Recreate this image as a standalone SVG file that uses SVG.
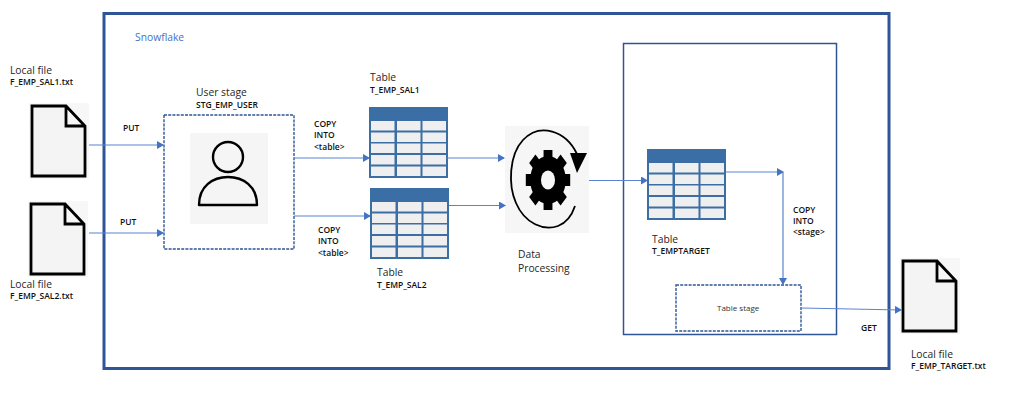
<svg xmlns="http://www.w3.org/2000/svg" width="1024" height="417" viewBox="0 0 1024 417">
<style>
text{font-family:"Open Sans","Noto Sans","Liberation Sans",sans-serif;fill:#262626}
.l{font-size:10.300px}
.b{font-size:8.500px;font-weight:600;fill:#111}
.s{font-size:8px;fill:#333}
.c{fill:none;stroke:#5b84cf;stroke-width:1.2}
.d{fill:#fff;stroke:#2f5597;stroke-width:1.4;stroke-dasharray:3 1.2}
</style>
<defs>
<marker id="a" markerUnits="userSpaceOnUse" markerWidth="7" markerHeight="8" refX="6" refY="4" orient="auto"><path d="M0 0L7 4L0 8Z" fill="#4472c4"/></marker>
<symbol id="file" width="60" height="76" viewBox="0 0 60 76" overflow="visible">
<rect width="60" height="76" fill="#f7f7f7"/>
<path d="M3 3H37L56 23V73H3Z M37 3V23H56" fill="#f4f4f4" stroke="#000" stroke-width="2.800"/>
</symbol>
<symbol id="tbl" width="79" height="71" viewBox="0 0 79 71">
<rect width="79" height="71" fill="#3a6ea5"/>
<g fill="#efefef">
<rect x="2" y="14" width="23.500" height="9.500"/><rect x="28" y="14" width="23.500" height="9.500"/><rect x="53.500" y="14" width="23.500" height="9.500"/>
<rect x="2" y="25.500" width="23.500" height="9.500"/><rect x="28" y="25.500" width="23.500" height="9.500"/><rect x="53.500" y="25.500" width="23.500" height="9.500"/>
<rect x="2" y="36.500" width="23.500" height="9.500"/><rect x="28" y="36.500" width="23.500" height="9.500"/><rect x="53.500" y="36.500" width="23.500" height="9.500"/>
<rect x="2" y="48" width="23.500" height="9.500"/><rect x="28" y="48" width="23.500" height="9.500"/><rect x="53.500" y="48" width="23.500" height="9.500"/>
<rect x="2" y="59.500" width="23.500" height="9.500"/><rect x="28" y="59.500" width="23.500" height="9.500"/><rect x="53.500" y="59.500" width="23.500" height="9.500"/>
</g>
</symbol>
</defs>
<rect width="1024" height="417" fill="#fff"/>
<g id="snowflake">
<rect x="104" y="13.500" width="785" height="355" fill="#fff" stroke="#2f5597" stroke-width="3"/>
<text x="135" y="41" font-size="10.300" style="fill:#4472c4">Snowflake</text>
</g>
<g id="target-box"><rect x="623.500" y="43.500" width="213" height="291" fill="none" stroke="#2f5597" stroke-width="1.500"/></g>
<g id="file1">
<use href="#file" x="29" y="103"/>
<text class="l" x="10" y="74">Local file</text><text class="b" x="10" y="85">F_EMP_SAL1.txt</text>
</g>
<g id="file2">
<use href="#file" x="28" y="201"/>
<text class="l" x="10" y="288">Local file</text><text class="b" x="10" y="299">F_EMP_SAL2.txt</text>
</g>
<g id="user-stage">
<rect class="d" x="164" y="115" width="130" height="134"/>
<rect x="190" y="133" width="78" height="91" fill="#f5f5f5"/>
<circle cx="228" cy="157" r="15" fill="none" stroke="#000" stroke-width="2.400"/>
<path d="M199 205C199 186 213 177 228 177C243 177 257 186 257 205Z" fill="none" stroke="#000" stroke-width="2.400" stroke-linejoin="round"/>
<text class="l" x="196" y="96">User stage</text><text class="b" x="196" y="108">STG_EMP_USER</text>
</g>
<g id="table1">
<use href="#tbl" x="369" y="107"/>
<text class="l" x="370" y="81">Table</text><text class="b" x="370" y="93">T_EMP_SAL1</text>
</g>
<g id="table2">
<use href="#tbl" x="370" y="188"/>
<text class="l" x="377" y="276">Table</text><text class="b" x="377" y="288">T_EMP_SAL2</text>
</g>
<g id="processing">
<rect x="505" y="126" width="84" height="107" fill="#f6f6f6"/>
<path d="M577 154C566 131 540 122 523 140C509 155 508 185 516 203C525 224 544 231 558 226C566 223 572 215 575 206" fill="none" stroke="#000" stroke-width="1.800"/>
<path d="M570 153H587L577 173Z" fill="#000"/>
<g transform="translate(548 180) scale(.74 1)">
<circle r="15" fill="none" stroke="#000" stroke-width="18"/>
<g fill="#000">
<rect x="-6" y="-30" width="12" height="60"/>
<rect x="-6" y="-30" width="12" height="60" transform="rotate(45)"/>
<rect x="-6" y="-30" width="12" height="60" transform="rotate(90)"/>
<rect x="-6" y="-30" width="12" height="60" transform="rotate(135)"/>
</g>
<circle r="9.500" fill="#f6f6f6"/>
</g>
<text class="l" x="518" y="258">Data</text><text class="l" x="518" y="272">Processing</text>
</g>
<g id="table-target">
<use href="#tbl" x="647" y="149"/>
<text class="l" x="652" y="243">Table</text><text class="b" x="652" y="254">T_EMPTARGET</text>
</g>
<g id="table-stage">
<rect class="d" x="676" y="285" width="125" height="46"/>
<text class="s" x="717" y="311">Table stage</text>
</g>
<g id="file3">
<use href="#file" x="900" y="258"/>
<text class="l" x="911" y="358">Local file</text><text class="b" x="911" y="369">F_EMP_TARGET.txt</text>
</g>
<g id="connectors">
<path class="c" d="M89 145H163" marker-end="url(#a)"/>
<path class="c" d="M89 233H163" marker-end="url(#a)"/>
<path class="c" d="M294 158H369" marker-end="url(#a)"/>
<path class="c" d="M294 216H370" marker-end="url(#a)"/>
<path class="c" d="M447 158H504" marker-end="url(#a)"/>
<path class="c" d="M449 205.500H505" marker-end="url(#a)"/>
<path class="c" d="M589 180.500H647" marker-end="url(#a)"/>
<path class="c" d="M726 172H783" marker-end="url(#a)"/>
<path class="c" d="M783 172V284" marker-end="url(#a)"/>
<path class="c" d="M801 308L901 310" marker-end="url(#a)"/>
</g>
<g id="labels">
<text class="b" x="123" y="131">PUT</text>
<text class="b" x="120" y="225">PUT</text>
<text class="b" x="314" y="127">COPY</text><text class="b" x="314" y="138">INTO</text><text class="b" x="314" y="150">&lt;table&gt;</text>
<text class="b" x="318" y="233">COPY</text><text class="b" x="318" y="244">INTO</text><text class="b" x="318" y="256">&lt;table&gt;</text>
<text class="b" x="793" y="213">COPY</text><text class="b" x="793" y="224">INTO</text><text class="b" x="793" y="235">&lt;stage&gt;</text>
<text class="b" x="861" y="331">GET</text>
</g>
</svg>
